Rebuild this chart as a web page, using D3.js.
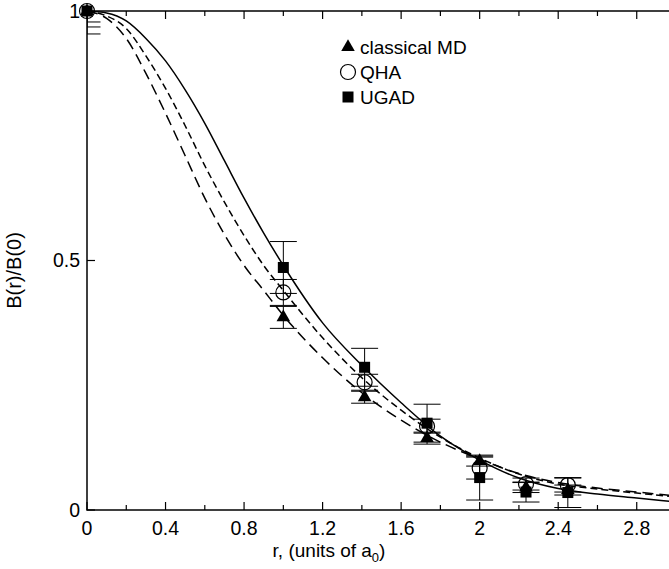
<!DOCTYPE html>
<html>
<head>
<meta charset="utf-8">
<script src="https://cdn.jsdelivr.net/npm/d3@7"></script>
<style>
  body { margin: 0; background: #fff; }
  svg { display: block; font-family: "Liberation Sans", Arial, sans-serif; }
</style>
</head>
<body>
<svg id="chart" width="669" height="569"></svg>
<script>
// sample points (r in units of a0)
const pointR = [0, 1, 1.414, 1.732, 2, 2.236, 2.449];
const mdVal = [1, 0.386, 0.226, 0.144, 0.098, 0.045, 0.04];
const mdErr = [0.022, 0.022, 0.012, 0.012, 0.01, 0.01, 0.01];
const qhaVal = [1, 0.436, 0.256, 0.168, 0.084, 0.052, 0.05];
const qhaErr = [0.032, 0.026, 0.016, 0.014, 0.022, 0.012, 0.014];
const ugadVal = [1, 0.486, 0.286, 0.174, 0.065, 0.036, 0.035];
const ugadErr = [0.046, 0.052, 0.038, 0.038, 0.045, 0.02, 0.03];

// fitted curves
const curveR = [0, 0.1, 0.2, 0.3, 0.4, 0.5, 0.6, 0.7, 0.8, 0.9, 1.0, 1.2, 1.4, 1.6, 1.8, 2.0, 2.2, 2.4, 2.6, 2.8, 3.0];
const ugadCurve = [1, 0.996, 0.98, 0.945, 0.9, 0.842, 0.775, 0.7, 0.625, 0.555, 0.49, 0.375, 0.29, 0.215, 0.148, 0.1, 0.064, 0.043, 0.032, 0.024, 0.016];
const qhaCurve = [1, 0.99, 0.965, 0.91, 0.845, 0.77, 0.69, 0.617, 0.55, 0.49, 0.44, 0.345, 0.265, 0.2, 0.146, 0.104, 0.072, 0.052, 0.042, 0.034, 0.026];
const mdCurve = [1, 0.985, 0.945, 0.875, 0.795, 0.71, 0.625, 0.552, 0.49, 0.44, 0.39, 0.305, 0.235, 0.18, 0.136, 0.102, 0.073, 0.055, 0.044, 0.036, 0.028];

const xTicks = [0, 0.4, 0.8, 1.2, 1.6, 2, 2.4, 2.8];
const xMinor = [0.2, 0.6, 1.0, 1.4, 1.8, 2.2, 2.6, 3.0];
const yTicks = [0, 0.5, 1];
const legendNames = ["classical MD", "QHA", "UGAD"];

const svg = d3.select("#chart");
const x = d3.scaleLinear().domain([0, 3]).range([87, 676]);
const y = d3.scaleLinear().domain([0, 1]).range([510, 11]);

svg.append("defs").append("clipPath").attr("id", "plot")
    .append("rect")
    .attr("x", x(0)).attr("y", y(1))
    .attr("width", x(3) - x(0)).attr("height", y(0) - y(1));

// frame
svg.append("rect")
    .attr("x", x(0)).attr("y", y(1))
    .attr("width", x(3) - x(0)).attr("height", y(0) - y(1))
    .attr("fill", "none").attr("stroke", "#000").attr("stroke-width", 1.5);

// ticks (inward, bottom and top)
const tickG = svg.append("g").attr("stroke", "#000").attr("stroke-width", 1.2);
[[xTicks, 8], [xMinor, 5]].forEach(([vals, len]) => {
    vals.forEach(v => {
        tickG.append("line").attr("x1", x(v)).attr("x2", x(v)).attr("y1", y(0)).attr("y2", y(0) - len);
        tickG.append("line").attr("x1", x(v)).attr("x2", x(v)).attr("y1", y(1)).attr("y2", y(1) + len);
    });
});
yTicks.forEach(v => {
    tickG.append("line").attr("x1", x(0)).attr("x2", x(0) + 8).attr("y1", y(v)).attr("y2", y(v));
});

svg.append("g").selectAll("text").data(xTicks).join("text")
    .attr("x", d => x(d)).attr("y", 535)
    .attr("text-anchor", "middle").attr("font-size", 19.5)
    .text(d => d3.format("~g")(d));

svg.append("g").selectAll("text").data(yTicks).join("text")
    .attr("x", 80).attr("y", d => y(d)).attr("dy", "0.35em")
    .attr("text-anchor", "end").attr("font-size", 19.5)
    .text(d => d3.format("~g")(d));

const xLabel = svg.append("text")
    .attr("x", 329).attr("y", 557)
    .attr("text-anchor", "middle").attr("font-size", 19);
xLabel.append("tspan").text("r, (units of a");
xLabel.append("tspan").attr("font-size", 13).attr("dy", 5).text("0");
xLabel.append("tspan").attr("dy", -5).text(")");

svg.append("text")
    .attr("transform", `translate(21,${y(0.48)}) rotate(-90)`)
    .attr("text-anchor", "middle").attr("font-size", 20)
    .text("B(r)/B(0)");

// curves
const plot = svg.append("g").attr("clip-path", "url(#plot)");
const line = d3.line()
    .x(d => x(d[0]))
    .y(d => y(d[1]))
    .curve(d3.curveMonotoneX);

const curves = [
    { vals: mdCurve, dash: "11,6" },
    { vals: qhaCurve, dash: "7,4" },
    { vals: ugadCurve, dash: null }
];
curves.forEach(c => {
    plot.append("path")
        .datum(curveR.map((r, i) => [r, c.vals[i]]))
        .attr("fill", "none")
        .attr("stroke", "#000")
        .attr("stroke-width", 1.5)
        .attr("stroke-dasharray", c.dash)
        .attr("d", line);
});

// error bars
const series = [
    { name: "md", vals: mdVal, errs: mdErr },
    { name: "qha", vals: qhaVal, errs: qhaErr },
    { name: "ugad", vals: ugadVal, errs: ugadErr }
];
series.forEach(s => {
    const g = plot.append("g").attr("stroke", "#000").attr("stroke-width", 1);
    pointR.forEach((r, i) => {
        const px = x(r), lo = y(s.vals[i] - s.errs[i]), hi = y(s.vals[i] + s.errs[i]);
        g.append("line").attr("x1", px).attr("x2", px).attr("y1", lo).attr("y2", hi);
        g.append("line").attr("x1", px - 13.5).attr("x2", px + 13.5).attr("y1", lo).attr("y2", lo);
        g.append("line").attr("x1", px - 13.5).attr("x2", px + 13.5).attr("y1", hi).attr("y2", hi);
    });
});

// markers
const triangle = d3.symbol().type(d3.symbolTriangle).size(80);
function drawMarker(g, kind, px, py) {
    if (kind === "md") {
        g.append("path").attr("d", triangle).attr("transform", `translate(${px},${py})`).attr("fill", "#000");
    } else if (kind === "qha") {
        g.append("circle").attr("cx", px).attr("cy", py).attr("r", 7.5)
            .attr("fill", "none").attr("stroke", "#000").attr("stroke-width", 1.2);
    } else {
        g.append("rect").attr("x", px - 5.5).attr("y", py - 5.5).attr("width", 11).attr("height", 11).attr("fill", "#000");
    }
}
const markG = svg.append("g");
series.forEach(s => {
    pointR.forEach((r, i) => drawMarker(markG, s.name, x(r), y(s.vals[i])));
});

// legend
const legendY = [47, 72, 97];
series.forEach((s, i) => {
    drawMarker(svg, s.name, 348, legendY[i]);
    svg.append("text")
        .attr("x", 360).attr("y", legendY[i]).attr("dy", "0.35em")
        .attr("font-size", 19)
        .text(legendNames[i]);
});
</script>
</body>
</html>
